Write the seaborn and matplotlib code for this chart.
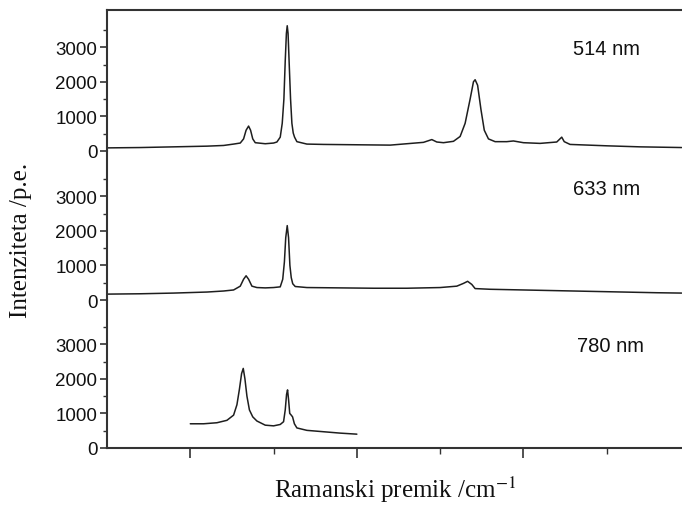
import matplotlib
matplotlib.use("Agg")
import matplotlib.pyplot as plt
import seaborn as sns
import pandas as pd
from matplotlib.ticker import FixedLocator

# ---- data ----
wn_514 = [500, 700, 900, 1100, 1200, 1260, 1300, 1320, 1335, 1350, 1362, 1375, 1390, 1450, 1500,
          1520, 1540, 1552, 1562, 1570, 1577, 1582, 1587, 1594, 1602, 1610, 1618, 1626, 1640,
          1700, 1800, 2000, 2200,
          2400, 2450, 2480, 2520, 2580, 2620, 2650, 2680, 2700, 2710, 2725, 2745, 2765, 2790, 2830,
          2900, 2940, 3000, 3100, 3200, 3230, 3245, 3280, 3500, 3700, 3950]
int_514 = [90, 100, 120, 140, 160, 200, 230, 350, 600, 720, 600, 350, 240, 210, 230,
           260, 400, 800, 1500, 2600, 3400, 3620, 3400, 2500, 1500, 800, 520, 400, 270,
           200, 190, 180, 170,
           250, 330, 260, 240, 280, 420, 800, 1500, 2000, 2060, 1900, 1200, 600, 350, 270,
           270, 290, 240, 220, 260, 400, 270, 190, 150, 120, 100]

wn_633 = [500, 700, 900, 1100, 1200, 1260, 1300, 1320, 1335, 1350, 1370, 1400, 1450, 1500,
          1540, 1555, 1565, 1573, 1582, 1590, 1598, 1606, 1615, 1630,
          1700, 1900, 2100, 2300, 2500, 2600,
          2640, 2665, 2690, 2710, 2800, 3000, 3200, 3400, 3600, 3800, 3950]
int_633 = [170, 180, 200, 230, 260, 290, 400, 600, 700, 600, 400, 360, 350, 360,
           380, 600, 1100, 1800, 2150, 1800, 1000, 650, 470, 390,
           360, 350, 340, 340, 360, 400,
           480, 540, 450, 330, 310, 290, 270, 250, 230, 210, 200]

wn_780 = [1000, 1080, 1160, 1220, 1260, 1280, 1295, 1308, 1318, 1328, 1340, 1355, 1375, 1400,
          1450, 1500, 1540, 1560, 1570, 1578, 1584, 1590, 1597, 1606, 1614, 1625, 1640,
          1700, 1800, 1900, 2000]
int_780 = [700, 700, 730, 800, 950, 1250, 1700, 2150, 2300, 2000, 1500, 1100, 900, 780,
           660, 640, 680, 760, 1100, 1550, 1680, 1400, 1000, 950, 900, 700, 580,
           510, 470, 430, 400]

labels = ["514 nm", "633 nm", "780 nm"]
y_major = [0, 1000, 2000, 3000]
y_minor = [500, 1500, 2500, 3500]
x_major = [1000, 2000, 3000]
x_minor = [1500, 2500, 3500]

# ---- style ----
sns.set_style("ticks")
plt.rcParams['font.family'] = ['Liberation Sans', 'DejaVu Sans']
plt.rcParams['mathtext.fontset'] = 'stix'

W, H = 682, 506
fig = plt.figure(figsize=(W / 100, H / 100), dpi=100)

left = 107 / W
width = 1 - left
panels = [(11, 152), (152, 301), (301, 449)]
px_per_unit = 0.0346

series = [(wn_514, int_514), (wn_633, int_633), (wn_780, int_780)]
label_pos = [(3300, 2950), (3300, 3210), (3320, 2950)]

line_color = "#1e1e1e"
spine_color = "#333333"

for i, ((top, bot), (wn, it)) in enumerate(zip(panels, series)):
    ax = fig.add_axes([left, 1 - bot / H, width, (bot - top) / H])
    df = pd.DataFrame({"wn": wn, "I": it})
    sns.lineplot(data=df, x="wn", y="I", ax=ax, color=line_color, linewidth=1.1)
    ax.set_xlim(500, 3952)
    ax.set_ylim(0, (bot - top) / px_per_unit)
    ax.patch.set_alpha(0)
    ax.set_xlabel("")
    ax.set_ylabel("")
    ax.yaxis.set_major_locator(FixedLocator(y_major))
    ax.yaxis.set_minor_locator(FixedLocator(y_minor))
    ax.tick_params(axis='y', which='major', length=5, width=1.2, labelsize=13.5,
                   colors=spine_color, labelcolor='#111111', pad=2)
    ax.tick_params(axis='y', which='minor', length=3, width=1.0, colors=spine_color)
    for s in ax.spines.values():
        s.set_color(spine_color)
        s.set_linewidth(1.5)
    ax.spines['right'].set_visible(False)
    ax.spines['top'].set_visible(i == 0)
    if i == 2:
        ax.spines['bottom'].set_visible(True)
        ax.xaxis.set_major_locator(FixedLocator(x_major))
        ax.xaxis.set_minor_locator(FixedLocator(x_minor))
        ax.tick_params(axis='x', which='major', length=7, width=1.2, labelbottom=False,
                       colors=spine_color)
        ax.tick_params(axis='x', which='minor', length=4, width=1.0, colors=spine_color)
    else:
        ax.spines['bottom'].set_visible(False)
        ax.tick_params(axis='x', which='both', bottom=False, labelbottom=False)
    ax.text(label_pos[i][0], label_pos[i][1], labels[i], ha='left', va='center',
            fontsize=14.5, color='#111111')

fig.text(21 / W, 1 - 240 / H, "Intenziteta /p.e.", rotation=90, ha='center', va='center',
         fontsize=18, family=['Liberation Serif', 'DejaVu Serif'], color='#111111')
fig.text(395 / W, 1 - 490 / H, r"Ramanski premik /cm$^{-1}$", ha='center', va='center',
         fontsize=18, family=['Liberation Serif', 'DejaVu Serif'], color='#111111')

fig.savefig("out.png", dpi=100)
